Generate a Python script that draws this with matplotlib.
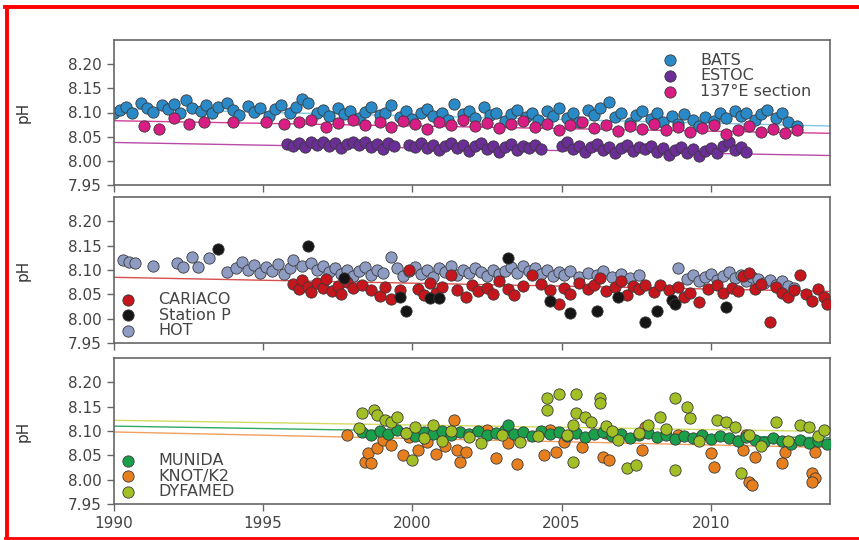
import matplotlib.pyplot as plt
from matplotlib.lines import Line2D

# ---- panel 1 data ----
bats_yr = [1990.0, 1990.2, 1990.4, 1990.6, 1990.9, 1991.1, 1991.3, 1991.6, 1991.8, 1992.0,
           1992.2, 1992.4, 1992.6, 1992.9, 1993.1, 1993.3, 1993.5, 1993.8, 1994.0, 1994.2,
           1994.5, 1994.7, 1994.9, 1995.2, 1995.4, 1995.6, 1995.9, 1996.1, 1996.3, 1996.5,
           1996.8, 1997.0, 1997.2, 1997.5, 1997.7, 1997.9, 1998.2, 1998.4, 1998.6, 1998.9,
           1999.1, 1999.3, 1999.6, 1999.8, 2000.0, 2000.3, 2000.5, 2000.7, 2001.0, 2001.2,
           2001.4, 2001.7, 2001.9, 2002.1, 2002.4, 2002.6, 2002.8, 2003.1, 2003.3, 2003.5,
           2003.8, 2004.0, 2004.2, 2004.5, 2004.7, 2004.9, 2005.2, 2005.4, 2005.6, 2005.9,
           2006.1, 2006.3, 2006.6, 2006.8, 2007.0, 2007.3, 2007.5, 2007.7, 2008.0, 2008.2,
           2008.4, 2008.7, 2008.9, 2009.1, 2009.4, 2009.6, 2009.8, 2010.1, 2010.3, 2010.5,
           2010.8, 2011.0, 2011.2, 2011.5, 2011.7, 2011.9, 2012.2, 2012.4, 2012.6, 2012.9]
bats_ph = [8.100, 8.105, 8.112, 8.098, 8.120, 8.110, 8.102, 8.115, 8.108, 8.118,
           8.100, 8.125, 8.110, 8.104, 8.116, 8.098, 8.112, 8.120, 8.106, 8.095,
           8.114, 8.102, 8.110, 8.092, 8.108, 8.115, 8.100, 8.112, 8.128, 8.120,
           8.098, 8.106, 8.092, 8.110, 8.096, 8.104, 8.088, 8.102, 8.112, 8.094,
           8.100, 8.115, 8.090, 8.104, 8.086, 8.098, 8.108, 8.092, 8.100, 8.084,
           8.118, 8.096, 8.104, 8.088, 8.112, 8.094, 8.100, 8.082, 8.096, 8.106,
           8.090, 8.098, 8.084, 8.104, 8.092, 8.110, 8.088, 8.098, 8.080, 8.106,
           8.094, 8.110, 8.122, 8.090, 8.100, 8.078, 8.094, 8.104, 8.086, 8.098,
           8.080, 8.092, 8.076, 8.096, 8.084, 8.072, 8.090, 8.082, 8.098, 8.088,
           8.104, 8.092, 8.100, 8.084, 8.096, 8.106, 8.088, 8.098, 8.080, 8.072]

estoc_yr = [1995.8, 1996.0, 1996.2, 1996.4, 1996.6, 1996.8, 1997.0, 1997.2, 1997.4, 1997.6,
            1997.8, 1998.0, 1998.2, 1998.4, 1998.6, 1998.8, 1999.0, 1999.2, 1999.4, 1999.9,
            2000.1, 2000.3, 2000.5, 2000.7, 2000.9, 2001.1, 2001.3, 2001.5, 2001.7, 2001.9,
            2002.1, 2002.3, 2002.5, 2002.7, 2002.9, 2003.1, 2003.3, 2003.5, 2003.7, 2003.9,
            2004.1, 2004.3, 2005.0, 2005.2, 2005.4, 2005.6, 2005.8, 2006.0, 2006.2, 2006.4,
            2006.6, 2006.8, 2007.0, 2007.2, 2007.4, 2007.6, 2007.8, 2008.0, 2008.2, 2008.4,
            2008.6, 2008.8, 2009.0, 2009.2, 2009.4, 2009.6, 2009.8, 2010.0, 2010.2, 2010.4,
            2010.6, 2010.8, 2011.0, 2011.2]
estoc_ph = [8.034, 8.030, 8.036, 8.028, 8.038, 8.032, 8.040, 8.030, 8.036, 8.026,
            8.034, 8.040, 8.032, 8.038, 8.028, 8.034, 8.024, 8.036, 8.030, 8.032,
            8.028, 8.036, 8.026, 8.032, 8.022, 8.030, 8.036, 8.026, 8.032, 8.020,
            8.030, 8.036, 8.024, 8.030, 8.018, 8.028, 8.034, 8.022, 8.030, 8.026,
            8.032, 8.024, 8.030, 8.038, 8.024, 8.030, 8.018, 8.028, 8.034, 8.022,
            8.028, 8.016, 8.026, 8.032, 8.020, 8.028, 8.024, 8.030, 8.018, 8.026,
            8.012, 8.022, 8.028, 8.016, 8.024, 8.010, 8.020, 8.026, 8.016, 8.030,
            8.040, 8.022, 8.028, 8.018]

e137_yr = [1991.0, 1991.5, 1992.0, 1992.5, 1993.0, 1994.0, 1995.1, 1995.7, 1996.2, 1996.6,
           1997.1, 1997.5, 1998.0, 1998.4, 1998.9, 1999.3, 1999.7, 2000.1, 2000.5, 2000.9,
           2001.3, 2001.7, 2002.1, 2002.5, 2002.9, 2003.3, 2003.7, 2004.1, 2004.5, 2004.9,
           2005.3, 2005.7, 2006.1, 2006.5, 2006.9, 2007.3, 2007.7, 2008.1, 2008.5, 2008.9,
           2009.3, 2009.7, 2010.1, 2010.5, 2010.9, 2011.3, 2011.7, 2012.1, 2012.5, 2012.9]
e137_ph = [8.073, 8.065, 8.089, 8.077, 8.081, 8.081, 8.081, 8.077, 8.081, 8.085,
           8.069, 8.079, 8.084, 8.075, 8.080, 8.070, 8.082, 8.077, 8.066, 8.080,
           8.074, 8.085, 8.072, 8.078, 8.068, 8.076, 8.082, 8.070, 8.076, 8.064,
           8.074, 8.080, 8.068, 8.074, 8.062, 8.072, 8.066, 8.076, 8.064, 8.070,
           8.060, 8.068, 8.074, 8.056, 8.064, 8.072, 8.060, 8.066, 8.058, 8.064]

# ---- panel 2 data ----
hot_yr = [1990.3, 1990.5, 1990.7, 1991.3, 1992.1, 1992.3, 1992.6, 1992.8, 1993.2, 1993.8,
          1994.1, 1994.3, 1994.5, 1994.7, 1994.9, 1995.1, 1995.3, 1995.5, 1995.7, 1995.9,
          1996.0, 1996.3, 1996.6, 1996.8, 1997.0, 1997.2, 1997.4, 1997.6, 1997.8, 1998.0,
          1998.2, 1998.4, 1998.6, 1998.8, 1999.0, 1999.3, 1999.5, 1999.7, 1999.9, 2000.1,
          2000.3, 2000.5, 2000.7, 2000.9, 2001.1, 2001.3, 2001.5, 2001.7, 2001.9, 2002.1,
          2002.3, 2002.5, 2002.7, 2002.9, 2003.1, 2003.3, 2003.5, 2003.7, 2003.9, 2004.1,
          2004.3, 2004.5, 2004.7, 2004.9, 2005.1, 2005.3, 2005.6, 2005.9, 2006.2, 2006.4,
          2006.7, 2007.0, 2007.3, 2007.6, 2008.9, 2009.2, 2009.4, 2009.6, 2009.8, 2010.0,
          2010.2, 2010.4, 2010.6, 2010.8, 2011.0, 2011.2, 2011.4, 2011.6, 2011.8, 2012.0,
          2012.2, 2012.4, 2012.6, 2012.8]
hot_ph = [8.120, 8.116, 8.114, 8.108, 8.114, 8.106, 8.126, 8.106, 8.124, 8.095,
          8.104, 8.116, 8.100, 8.110, 8.094, 8.106, 8.098, 8.112, 8.092, 8.104,
          8.120, 8.108, 8.114, 8.100, 8.108, 8.096, 8.104, 8.092, 8.100, 8.088,
          8.098, 8.106, 8.090, 8.100, 8.094, 8.126, 8.104, 8.088, 8.098, 8.106,
          8.092, 8.100, 8.086, 8.104, 8.096, 8.108, 8.090, 8.100, 8.094, 8.104,
          8.096, 8.088, 8.100, 8.092, 8.098, 8.106, 8.094, 8.108, 8.098, 8.104,
          8.092, 8.100, 8.088, 8.096, 8.090, 8.098, 8.086, 8.094, 8.090, 8.098,
          8.086, 8.092, 8.084, 8.090, 8.104, 8.082, 8.090, 8.078, 8.086, 8.092,
          8.080, 8.088, 8.096, 8.084, 8.090, 8.078, 8.086, 8.082, 8.074, 8.080,
          8.070, 8.078, 8.068, 8.064]

cariaco_yr = [1996.0, 1996.2, 1996.3, 1996.5, 1996.6, 1996.8, 1997.0, 1997.1, 1997.3, 1997.5,
              1997.6, 1997.8, 1998.0, 1998.3, 1998.6, 1998.9, 1999.1, 1999.3, 1999.6, 1999.9,
              2000.2, 2000.4, 2000.6, 2000.8, 2001.0, 2001.3, 2001.5, 2001.8, 2002.0, 2002.2,
              2002.5, 2002.7, 2002.9, 2003.2, 2003.4, 2003.7, 2004.0, 2004.3, 2004.6, 2004.9,
              2005.1, 2005.3, 2005.6, 2005.9, 2006.1, 2006.3, 2006.5, 2006.8, 2007.0, 2007.2,
              2007.4, 2007.6, 2007.8, 2008.1, 2008.3, 2008.6, 2008.9, 2009.1, 2009.3, 2009.6,
              2009.9, 2010.2, 2010.4, 2010.7, 2010.9, 2011.1, 2011.3, 2011.5, 2011.7, 2012.0,
              2012.2, 2012.4, 2012.6, 2012.8, 2013.0, 2013.2, 2013.4, 2013.6, 2013.8, 2013.9]
cariaco_ph = [8.072, 8.060, 8.080, 8.066, 8.054, 8.074, 8.062, 8.082, 8.056, 8.068,
              8.050, 8.076, 8.062, 8.070, 8.058, 8.046, 8.066, 8.040, 8.058, 8.100,
              8.060, 8.048, 8.074, 8.052, 8.066, 8.090, 8.058, 8.044, 8.070, 8.056,
              8.064, 8.050, 8.078, 8.060, 8.048, 8.068, 8.090, 8.072, 8.058, 8.030,
              8.064, 8.050, 8.074, 8.060, 8.070, 8.084, 8.056, 8.066, 8.078, 8.048,
              8.068, 8.060, 8.070, 8.054, 8.070, 8.058, 8.066, 8.044, 8.052, 8.034,
              8.060, 8.070, 8.052, 8.064, 8.056, 8.088, 8.094, 8.060, 8.072, 7.993,
              8.066, 8.052, 8.044, 8.058, 8.089, 8.050, 8.036, 8.060, 8.044, 8.030]

stp_yr = [1993.5, 1996.5, 1997.7, 1999.6, 1999.8, 2000.6, 2000.9, 2003.2, 2004.6, 2005.3,
          2006.2, 2006.9, 2007.8, 2008.2, 2008.7, 2008.8, 2010.5]
stp_ph = [8.143, 8.149, 8.083, 8.044, 8.016, 8.042, 8.042, 8.124, 8.036, 8.011,
          8.016, 8.044, 7.993, 8.016, 8.038, 8.030, 8.024]

# ---- panel 3 data ----
munida_yr = [1998.3, 1998.6, 1998.9, 1999.2, 1999.5, 1999.8, 2000.1, 2000.4, 2000.7, 2001.0,
             2001.3, 2001.6, 2001.9, 2002.2, 2002.5, 2002.8, 2003.1, 2003.2, 2003.4, 2003.7,
             2004.0, 2004.3, 2004.6, 2004.9, 2005.2, 2005.5, 2005.8, 2006.1, 2006.4, 2006.7,
             2007.0, 2007.3, 2007.6, 2007.9, 2008.2, 2008.5, 2008.8, 2009.1, 2009.4, 2009.7,
             2010.0, 2010.3, 2010.6, 2010.9, 2011.2, 2011.5, 2011.8, 2012.1, 2012.4, 2012.7,
             2013.0, 2013.3, 2013.6, 2013.9]
munida_ph = [8.098, 8.092, 8.100, 8.094, 8.102, 8.096, 8.090, 8.098, 8.094, 8.100,
             8.092, 8.098, 8.094, 8.100, 8.092, 8.096, 8.102, 8.112, 8.094, 8.098,
             8.090, 8.100, 8.094, 8.098, 8.090, 8.096, 8.088, 8.094, 8.098, 8.090,
             8.094, 8.086, 8.092, 8.096, 8.088, 8.092, 8.084, 8.090, 8.086, 8.092,
             8.084, 8.090, 8.086, 8.080, 8.088, 8.082, 8.078, 8.086, 8.080, 8.074,
             8.082, 8.076, 8.080, 8.074]

knot_yr = [1997.8, 1998.4, 1998.5, 1998.6, 1998.8, 1999.0, 1999.3, 1999.7, 1999.9, 2000.2,
           2000.5, 2000.8, 2001.1, 2001.4, 2001.5, 2001.6, 2001.8, 2002.5, 2002.8, 2003.2,
           2003.5, 2004.4, 2004.6, 2004.8, 2005.1, 2005.7, 2006.4, 2006.5, 2006.6, 2007.7,
           2007.8, 2008.9, 2010.0, 2010.1, 2011.1, 2011.2, 2011.3, 2011.4, 2011.5, 2012.4,
           2012.5, 2013.4, 2013.5, 2013.5, 2013.4]
knot_ph = [8.091, 8.036, 8.055, 8.034, 8.065, 8.082, 8.072, 8.050, 8.088, 8.060,
           8.078, 8.052, 8.070, 8.122, 8.061, 8.036, 8.057, 8.102, 8.044, 8.075,
           8.032, 8.050, 8.102, 8.057, 8.077, 8.067, 8.046, 8.095, 8.040, 8.061,
           8.108, 8.091, 8.055, 8.026, 8.061, 8.091, 7.995, 7.989, 8.046, 8.034,
           8.057, 8.014, 8.057, 8.003, 7.995]

dyf_yr = [1998.2, 1998.3, 1998.7, 1998.8, 1999.1, 1999.3, 1999.5, 1999.8, 2000.0, 2000.1,
          2000.4, 2000.7, 2001.0, 2001.3, 2001.9, 2002.3, 2003.0, 2003.6, 2004.2, 2004.5,
          2004.5, 2004.9, 2005.2, 2005.4, 2005.4, 2005.5, 2005.5, 2005.8, 2006.0, 2006.3,
          2006.3, 2006.5, 2006.7, 2006.9, 2007.2, 2007.5, 2007.6, 2007.9, 2008.3, 2008.5,
          2008.8, 2008.8, 2009.2, 2009.3, 2009.6, 2010.2, 2010.5, 2010.8, 2011.0, 2011.3,
          2011.7, 2012.2, 2012.6, 2013.0, 2013.3, 2013.6, 2013.8]
dyf_ph = [8.106, 8.136, 8.143, 8.132, 8.122, 8.118, 8.128, 8.096, 8.040, 8.108,
          8.085, 8.112, 8.080, 8.100, 8.088, 8.076, 8.092, 8.078, 8.090, 8.167,
          8.143, 8.177, 8.092, 8.036, 8.112, 8.177, 8.138, 8.128, 8.118, 8.167,
          8.157, 8.110, 8.100, 8.082, 8.024, 8.030, 8.096, 8.112, 8.128, 8.104,
          8.167, 8.020, 8.149, 8.126, 8.080, 8.122, 8.118, 8.108, 8.014, 8.092,
          8.070, 8.118, 8.080, 8.112, 8.108, 8.090, 8.102]

# linear trend lines, value at start and end year
trend_yr = [1990, 2014]
bats_trend = [8.108, 8.072]
estoc_trend = [8.038, 8.011]
e137_trend = [8.083, 8.057]
cariaco_trend = [8.085, 8.056]
munida_trend = [8.110, 8.086]
knot_trend = [8.098, 8.066]
dyf_trend = [8.122, 8.099]

yticks = [7.95, 8.00, 8.05, 8.10, 8.15, 8.20]
xticks = [1990, 1995, 2000, 2005, 2010]

TXT = '#444444'
plt.rcParams['font.family'] = 'DejaVu Sans'

fig = plt.figure(figsize=(8.59, 5.40), dpi=100)
fig.patch.set_facecolor('white')

left, width = 114 / 859, 716 / 859
boxes = [(40, 185), (197, 343), (358, 504)]
axes = []
for top, bot in boxes:
    ax = fig.add_axes([left, 1 - bot / 540, width, (bot - top) / 540])
    axes.append(ax)


def dots(ax, x, y, color, label, z):
    ax.scatter(x, y, s=66, c=color, edgecolors='#3a3a3a', linewidths=0.6,
               label=label, zorder=z)


def style(ax, show_x):
    ax.set_xlim(1990, 2014)
    ax.set_ylim(7.95, 8.25)
    ax.set_yticks(yticks)
    ax.set_yticklabels(['%.2f' % v for v in yticks])
    ax.set_xticks(xticks)
    if not show_x:
        ax.set_xticklabels([])
    ax.tick_params(direction='out', length=5, width=1, colors='#666666',
                   labelcolor=TXT, labelsize=11, pad=4)
    for sp in ax.spines.values():
        sp.set_color('#666666')
        sp.set_linewidth(1.2)
    ax.set_ylabel('pH', fontsize=11, color='#333333')
    ax.yaxis.set_label_coords(-0.117, 0.5)


def legend(ax, order, **kw):
    handles, labels = ax.get_legend_handles_labels()
    idx = [labels.index(o) for o in order]
    lg = ax.legend([handles[i] for i in idx], [labels[i] for i in idx], frameon=False,
                   fontsize=11.5, labelspacing=0.05, handletextpad=0.9,
                   borderpad=0.2, scatterpoints=1, **kw)
    for t in lg.get_texts():
        t.set_color(TXT)


# panel 1
ax = axes[0]
ax.plot(trend_yr, bats_trend, color='#7fc8ea', lw=1, zorder=1)
ax.plot(trend_yr, e137_trend, color='#d43c98', lw=1, zorder=1)
ax.plot(trend_yr, estoc_trend, color='#b84aa8', lw=1, zorder=1)
dots(ax, bats_yr, bats_ph, '#2a8ac8', 'BATS', 2)
dots(ax, estoc_yr, estoc_ph, '#6b2d96', 'ESTOC', 3)
dots(ax, e137_yr, e137_ph, '#d81e84', '137°E section', 4)
style(ax, False)
legend(ax, ['BATS', 'ESTOC', '137°E section'], loc='upper left',
       bbox_to_anchor=(0.738, 0.99))

# panel 2
ax = axes[1]
ax.plot(trend_yr, cariaco_trend, color='#d85050', lw=1, zorder=1)
dots(ax, hot_yr, hot_ph, '#8e9cc4', 'HOT', 2)
dots(ax, cariaco_yr, cariaco_ph, '#c4161c', 'CARIACO', 3)
dots(ax, stp_yr, stp_ph, '#151515', 'Station P', 4)
style(ax, False)
legend(ax, ['CARIACO', 'Station P', 'HOT'], loc='lower left',
       bbox_to_anchor=(-0.018, -0.045))

# panel 3
ax = axes[2]
ax.plot(trend_yr, dyf_trend, color='#d0dc60', lw=1, zorder=1)
ax.plot(trend_yr, munida_trend, color='#30a860', lw=1, zorder=1)
ax.plot(trend_yr, knot_trend, color='#f0a060', lw=1, zorder=1)
dots(ax, knot_yr, knot_ph, '#e87f1e', 'KNOT/K2', 2)
dots(ax, munida_yr, munida_ph, '#1aa04a', 'MUNIDA', 3)
dots(ax, dyf_yr, dyf_ph, '#a2bf26', 'DYFAMED', 4)
style(ax, True)
legend(ax, ['MUNIDA', 'KNOT/K2', 'DYFAMED'], loc='lower left',
       bbox_to_anchor=(-0.018, -0.045))

# red frame round the picture: left, top and bottom only (right side cut off)
red = '#ff0000'
fig.add_artist(Line2D([6.5 / 859, 6.5 / 859], [3 / 540, 1 - 6.5 / 540],
                      transform=fig.transFigure, color=red, lw=2.8))
fig.add_artist(Line2D([5 / 859, 1.0], [1 - 6.5 / 540, 1 - 6.5 / 540],
                      transform=fig.transFigure, color=red, lw=2.8))
fig.add_artist(Line2D([5 / 859, 1.0], [2.5 / 540, 2.5 / 540],
                      transform=fig.transFigure, color=red, lw=2.0))

fig.savefig('out.png', dpi=100, facecolor='white')
